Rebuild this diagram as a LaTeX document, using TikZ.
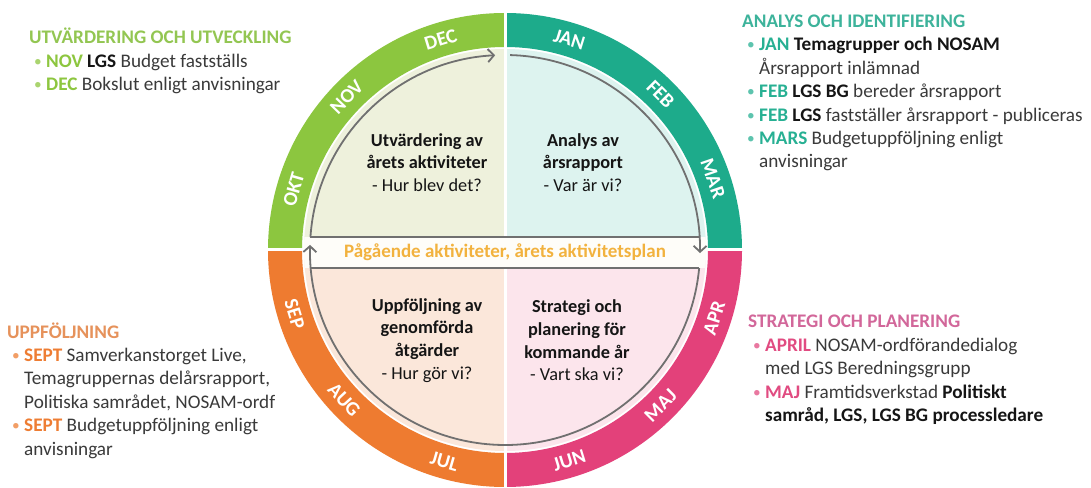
\documentclass[tikz,border=0pt]{standalone}
\usepackage{fontspec}
\setmainfont{Carlito}
\usetikzlibrary{arrows.meta,calc}

\definecolor{gR}{HTML}{8CC63F}
\definecolor{tR}{HTML}{1DAB8B}
\definecolor{pR}{HTML}{E3417A}
\definecolor{oR}{HTML}{EE7B30}
\definecolor{gF}{HTML}{EEF1DC}
\definecolor{tF}{HTML}{DDF3EF}
\definecolor{oF}{HTML}{FBE7DA}
\definecolor{pF}{HTML}{FCE5EC}
\definecolor{bandF}{HTML}{FEFDF9}
\definecolor{lineG}{HTML}{707070}
\definecolor{bandT}{HTML}{F2B23E}
\definecolor{gH}{HTML}{93C652}
\definecolor{tH}{HTML}{3DB39B}
\definecolor{oH}{HTML}{E6925B}
\definecolor{pH}{HTML}{D2679A}
\definecolor{gK}{HTML}{8DC63F}
\definecolor{tK}{HTML}{27B093}
\definecolor{oK}{HTML}{EE7D33}
\definecolor{pK}{HTML}{E14B81}
\definecolor{bodyT}{HTML}{3A3A3A}
\definecolor{boldT}{HTML}{151515}

\newcommand\bu[2]{\hspace*{5pt}\makebox[12pt][l]{\textcolor{#1!75}{\raisebox{1pt}{\scalebox{0.8}{•}}}}\textcolor{#1}{\bfseries #2}}
\newcommand\ct{\hspace*{17pt}}
\newcommand\B[1]{\textcolor{boldT}{\bfseries #1}}

\begin{document}
\begin{tikzpicture}[x=1pt,y=1pt,
  side/.style={inner sep=0pt, align=left, text=bodyT, font=\fontsize{19.2}{23.4}\selectfont},
  inner/.style={inner sep=0pt, align=center, text=boldT, font=\fontsize{18.3}{22.7}\selectfont},
  mon/.style={inner sep=0pt, text=white, font=\fontsize{20}{21}\selectfont\bfseries},
  gline/.style={draw=lineG, line width=1.8pt},
  tip/.style={-{Straight Barb[length=6pt,width=13pt]}}
]
\useasboundingbox (0,0) rectangle (1091,487);
\fill[white] (0,0) rectangle (1091,487);
\coordinate (C) at (505,237);

% ring sectors
\fill[gR] ($(C)+(90:237)$) arc[start angle=90,end angle=180,radius=237] -- ($(C)+(180:203)$) arc[start angle=180,end angle=90,radius=203] -- cycle;
\fill[tR] ($(C)+(0:237)$) arc[start angle=0,end angle=90,radius=237] -- ($(C)+(90:203)$) arc[start angle=90,end angle=0,radius=203] -- cycle;
\fill[pR] ($(C)+(-90:237)$) arc[start angle=-90,end angle=0,radius=237] -- ($(C)+(0:203)$) arc[start angle=0,end angle=-90,radius=203] -- cycle;
\fill[oR] ($(C)+(180:237)$) arc[start angle=180,end angle=270,radius=237] -- ($(C)+(270:203)$) arc[start angle=270,end angle=180,radius=203] -- cycle;

% quadrant fills
\fill[gF] (C) -- ($(C)+(90:201)$) arc[start angle=90,end angle=180,radius=201] -- cycle;
\fill[tF] (C) -- ($(C)+(0:201)$) arc[start angle=0,end angle=90,radius=201] -- cycle;
\fill[pF] (C) -- ($(C)+(-90:201)$) arc[start angle=-90,end angle=0,radius=201] -- cycle;
\fill[oF] (C) -- ($(C)+(180:201)$) arc[start angle=180,end angle=270,radius=201] -- cycle;

% band
\begin{scope}
\clip (C) circle[radius=201];
\fill[bandF] (0,219) rectangle (1091,250);
\end{scope}

% white gaps
\draw[white, line width=3pt] ($(C)+(0,240)$) -- ($(C)+(0,13)$);
\draw[white, line width=3pt] ($(C)+(0,-18)$) -- ($(C)+(0,-240)$);
\draw[white, line width=3pt] ($(C)+(-240,0)$) -- ($(C)+(-200,0)$);
\draw[white, line width=3pt] ($(C)+(240,0)$) -- ($(C)+(200,0)$);

% gray circle arcs with arrows
\coordinate (a1) at ($(C)+(176.2:195)$);
\coordinate (a2) at ($(C)+(3.8:195)$);
\coordinate (b1) at ($(C)+(185.3:195)$);
\coordinate (b2) at ($(C)+(-5.3:195)$);
\coordinate (t1) at ($(C)+(88.5:195)$);
\draw[gline, tip] (a1) arc[start angle=176.2, end angle=92.9, radius=195];
\draw[gline, tip] (t1) arc[start angle=88.5, end angle=-0.9, radius=195];
\draw[gline, tip] (b2) arc[start angle=-5.3, end angle=-181.5, radius=195];
\draw[gline] (a1) -- (a2);
\draw[gline] (b1) -- (b2);

% month labels
\foreach \a/\m in {107/DEC,136/NOV,164/OKT,73/JAN,45/FEB,19/MAR}
  \node[mon, rotate=\a-90] (m\m) at ($(C)+(\a:220)$) {\m};
\foreach \a/\m in {-18/APR,-45/MAJ,-73/JUN,-106/JUL,-137/AUG,-163/SEP}
  \node[mon, rotate=\a+90] (m\m) at ($(C)+(\a:220)$) {\m};

% band text
\node[inner sep=0pt, text=bandT, font=\fontsize{19}{22}\selectfont\bfseries] (band) at (505,234.5) {Pågående aktiviteter, årets aktivitetsplan};

% inner texts
\node[inner] (ul) at (427,324.5) {\bfseries Utvärdering av\\ \bfseries årets aktiviteter\\ - Hur blev det?};
\node[inner] (ur) at (583,324.5) {\bfseries Analys av\\ \bfseries årsrapport\\ - Var är vi?};
\node[inner] (ll) at (427,146.5) {\bfseries Uppföljning av\\ \bfseries genomförda\\ \bfseries åtgärder\\ - Hur gör vi?};
\node[inner] (lr) at (577,146.5) {\bfseries Strategi och\\ \bfseries planering för\\ \bfseries kommande år\\ - Vart ska vi?};

% side texts
\node[side, anchor=west] (tl) at (29,426) {\textcolor{gH}{\bfseries UTVÄRDERING OCH UTVECKLING}\\
\bu{gK}{NOV} \B{LGS} Budget fastställs\\
\bu{gK}{DEC} Bokslut enligt anvisningar};

\node[side, anchor=west] (tr) at (742,394) {\textcolor{tH}{\bfseries ANALYS OCH IDENTIFIERING}\\
\bu{tK}{JAN} \B{Temagrupper och NOSAM}\\
\ct Årsrapport inlämnad\\
\bu{tK}{FEB} \B{LGS BG} bereder årsrapport\\
\bu{tK}{FEB} \B{LGS} fastställer årsrapport - publiceras\\
\bu{tK}{MARS} Budgetuppföljning enligt\\
\ct anvisningar};

\node[side, anchor=west] (bl) at (7,96.5) {\textcolor{oH}{\bfseries UPPFÖLJNING}\\
\bu{oK}{SEPT} Samverkanstorget Live,\\
\ct Temagruppernas delårsrapport,\\
\ct Politiska samrådet, NOSAM-ordf\\
\bu{oK}{SEPT} Budgetuppföljning enligt\\
\ct anvisningar};

\node[side, anchor=west] (br) at (748,117) {\textcolor{pH}{\bfseries STRATEGI OCH PLANERING}\\
\bu{pK}{APRIL} NOSAM-ordförandedialog\\
\ct med LGS Beredningsgrupp\\
\bu{pK}{MAJ} Framtidsverkstad \B{Politiskt}\\
\ct \B{samråd, LGS, LGS BG processledare}};
\end{tikzpicture}
\end{document}
